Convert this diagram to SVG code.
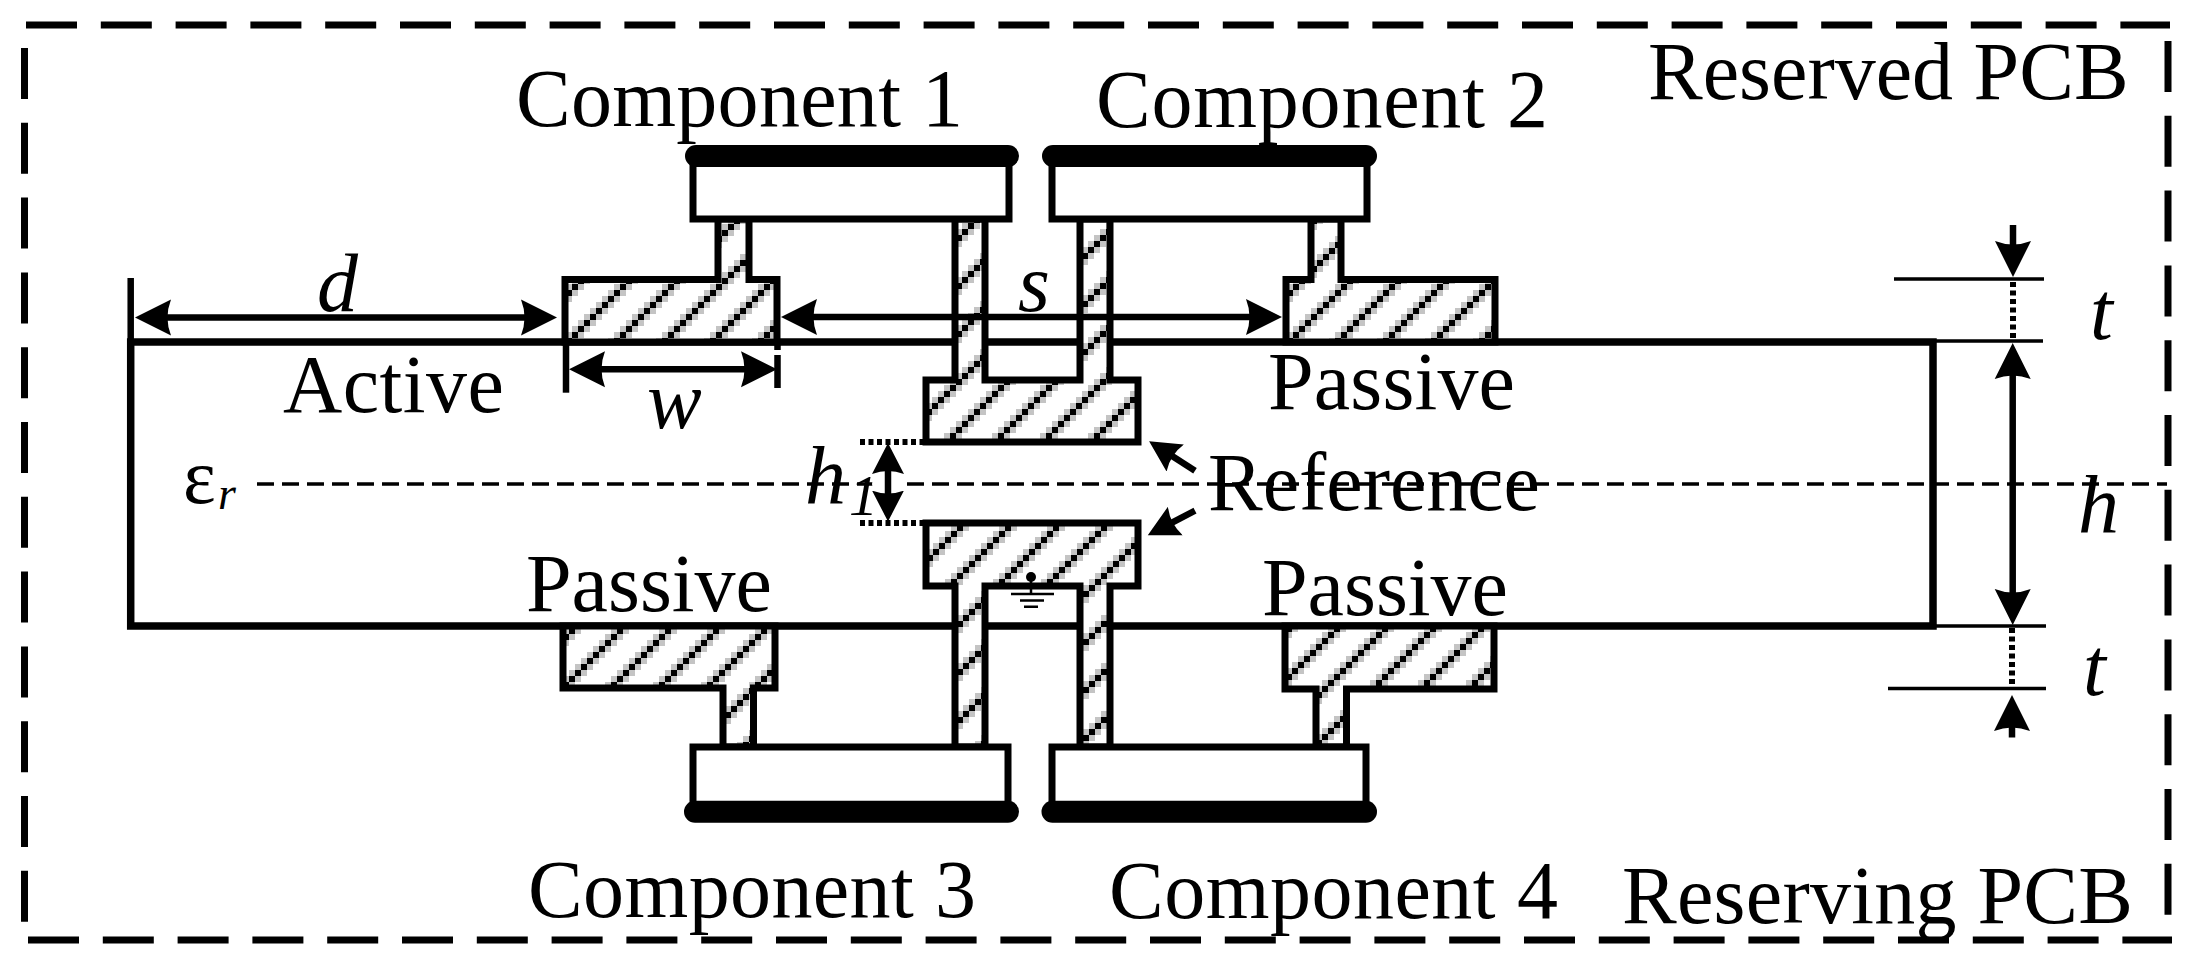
<svg xmlns="http://www.w3.org/2000/svg" width="2190" height="968" viewBox="0 0 2190 968">
<style>
text{font-family:"Liberation Serif","Times New Roman",serif;fill:#000;font-size:82px}
.i{font-style:italic}
.box{fill:#fff;stroke:#000;stroke-width:7}
.bar{fill:none;stroke:#000;stroke-width:22;stroke-linecap:round}
.hatch{stroke:#000;stroke-width:7;stroke-linejoin:miter}
.dim{fill:none;stroke:#000;stroke-width:6.5}
.thin{fill:none;stroke:#000;stroke-width:3.5}
.dot{fill:none;stroke:#000;stroke-width:6;stroke-dasharray:5 3.5}
.frame{fill:none;stroke:#000;stroke-width:7;stroke-dasharray:51 23.8}
.axis{fill:none;stroke:#000;stroke-width:3.5;stroke-dasharray:17 8}
.arr{marker-end:url(#a);marker-start:url(#a)}
.arr1{marker-end:url(#a)}
</style>
<defs>
<marker id="a" markerUnits="userSpaceOnUse" markerWidth="40" markerHeight="40" viewBox="0 -20 40 40" refX="28" refY="0" orient="auto-start-reverse"><path d="M36 0L0-18Q7 0 0 18Z"/></marker>
<marker id="s" markerUnits="userSpaceOnUse" markerWidth="34" markerHeight="34" viewBox="0 -17 34 34" refX="24" refY="0" orient="auto-start-reverse"><path d="M31 0L0-16Q6 0 0 16Z"/></marker>
<pattern id="h" width="48" height="48" patternUnits="userSpaceOnUse" patternTransform="translate(2 2)">
<rect width="48" height="48" fill="#fff"/>
<path fill="#c4c4c4" d="M30 0h6v6h-6zM42 0h6v6h-6zM24 6h6v6h-6zM36 6h6v6h-6zM18 12h6v6h-6zM30 12h6v6h-6zM12 18h6v6h-6zM24 18h6v6h-6zM6 24h6v6h-6zM18 24h6v6h-6zM0 30h6v6h-6zM12 30h6v6h-6zM42 36h6v6h-6zM6 36h6v6h-6zM36 42h6v6h-6zM0 42h6v6h-6z"/>
<path fill="#000" d="M36 0h6v6h-6zM30 6h6v6h-6zM24 12h6v6h-6zM18 18h6v6h-6zM12 24h6v6h-6zM6 30h6v6h-6zM0 36h6v6h-6zM42 42h6v6h-6z"/>
</pattern>
<pattern id="h2" href="#h" patternTransform="translate(2 1)"/>
<pattern id="h3" href="#h" patternTransform="translate(5 4)"/>
<pattern id="h4" href="#h" patternTransform="translate(3 3)"/>
<pattern id="h5" href="#h" patternTransform="translate(3 2)"/>
</defs>
<rect width="2190" height="968" fill="#fff"/>

<g id="frame">
<path class="frame" d="M26 25H2170"/>
<path class="frame" d="M28 940H2172"/>
<path class="frame" d="M24.5 48V930"/>
<path class="frame" d="M2168 41V915"/>
</g>

<g id="board">
<path d="M130.7 342H1933V626H130.7Z" fill="#fff" stroke="#000" stroke-width="7.5"/>
</g>

<g id="pad-active"><path class="hatch" fill="url(#h)" d="M565 342V279.5H718V219H749V279.5H777V342Z"/></g>
<g id="pad-passive-top"><path class="hatch" fill="url(#h5)" d="M1286 342V279.5H1311V219H1341V279.5H1495V342Z"/></g>
<g id="pad-passive-left"><path class="hatch" fill="url(#h3)" d="M563 626V688H723V747H753.5V688H775V626Z"/></g>
<g id="pad-passive-right"><path class="hatch" fill="url(#h)" d="M1285 626V689H1316V747H1346.5V689H1494V626Z"/></g>
<g id="reference-top"><path class="hatch" fill="url(#h2)" d="M955 219V380H926V442H1138V380H1110V219H1080V380H985V219Z"/></g>
<g id="reference-bottom"><path class="hatch" fill="url(#h4)" d="M955 747V586H926V523H1138V586H1110V747H1080V586H985V747Z"/></g>

<g id="component-1"><rect class="box" x="693" y="161" width="316" height="58"/><path class="bar" d="M696 156H1008"/></g>
<g id="component-2"><rect class="box" x="1052" y="161" width="315" height="58"/><path class="bar" d="M1053 156H1366"/></g>
<g id="component-3"><rect class="box" x="693" y="747" width="315" height="60"/><path class="bar" d="M695 811.7H1008"/></g>
<g id="component-4"><rect class="box" x="1052" y="747" width="314" height="60"/><path class="bar" d="M1052.5 811.7H1366"/></g>

<g id="ground">
<circle cx="1031" cy="577" r="5"/>
<path fill="none" stroke="#000" stroke-width="2.5" d="M1031 580V594M1011 594H1054M1020 600.500H1044M1024 606.700H1038"/>
</g>

<g id="connectors">
<path class="axis" d="M257 484H2167"/>
<ellipse cx="888" cy="484" rx="16" ry="9" fill="#fff"/>
<path class="dim" d="M130.700 278V345"/>
<path class="dim arr" d="M143 317.500H549"/>
<path class="dim arr" d="M789 317H1274"/>
<path class="dim" stroke-width="8" d="M566 342V392.700"/>
<path class="dim" d="M777.500 345V350M777.500 355V388"/>
<path class="dim arr" d="M577 369.300H769"/>
<path class="thin" d="M1894 279H2044M1933 341H2043M1933 626H2046M1888 688.600H2046"/>
<path class="dot" d="M2013 282V340M2012 628V688"/>
<path class="dim arr1" d="M2013 225V269"/>
<path class="dim arr" d="M2012.700 351V617"/>
<path class="dim arr1" d="M2012 737.500V703"/>
<path class="dot" d="M860 442H923M860 523H923"/>
<path class="dim" stroke-width="5" marker-start="url(#s)" marker-end="url(#s)" d="M888 450V514.500"/>
<path class="dim" marker-end="url(#s)" d="M1195 470.700L1155 445"/>
<path class="dim" marker-end="url(#s)" d="M1195 510.700L1154 532"/>
</g>

<g id="labels">
<text x="516" y="126" textLength="447">Component 1</text>
<text x="1096" y="127" textLength="452">Component 2</text>
<text x="528" y="917" textLength="448">Component 3</text>
<text x="1109" y="918" textLength="449">Component 4</text>
<text x="1648" y="99">Reserved PCB</text>
<text x="1622" y="923" textLength="511">Reserving PCB</text>
<text x="283" y="412" textLength="221">Active</text>
<text x="1268" y="408.500" textLength="247">Passive</text>
<text x="526" y="611" textLength="246">Passive</text>
<text x="1262" y="615" textLength="246">Passive</text>
<text x="1208" y="510" textLength="332">Reference</text>
<text class="i" x="317" y="311">d</text>
<text class="i" x="1018" y="311">s</text>
<text class="i" x="647" y="428">w</text>
<text class="i" x="2090" y="339">t</text>
<text class="i" x="2083" y="695">t</text>
<text class="i" x="2078" y="532">h</text>
<text x="183" y="503" style="font-size:78px">ε</text>
<text class="i" x="218" y="509" style="font-size:46px">r</text>
<text class="i" x="805" y="503">h</text>
<text class="i" x="849" y="515" style="font-size:58px">1</text>
</g>
</svg>
